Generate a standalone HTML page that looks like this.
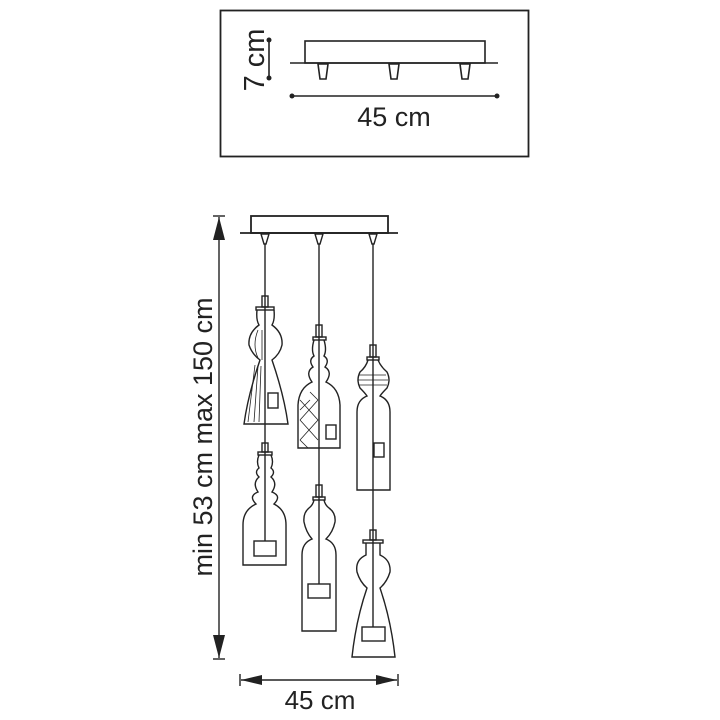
<!DOCTYPE html>
<html><head><meta charset="utf-8"><style>html,body{margin:0;padding:0;background:#fff}svg{display:block}</style></head>
<body>
<svg width="720" height="720" viewBox="0 0 720 720" xmlns="http://www.w3.org/2000/svg" font-family="Liberation Sans, sans-serif">
<rect width="720" height="720" fill="#fff"/>
<g fill="none" stroke="#222" stroke-width="1.6">
<rect x="220.5" y="10.5" width="308" height="146" stroke-width="1.8"/>
<rect x="305" y="41" width="180" height="22"/>
<line x1="290" y1="63" x2="498" y2="63"/>
<path d="M318 64 L328 64 L326 79 L320 79 Z M389 64 L399 64 L397 79 L391 79 Z M460 64 L470 64 L468 79 L462 79 Z"/>
<line x1="269" y1="40" x2="269" y2="78"/>
<line x1="292" y1="96" x2="497" y2="96"/>
</g>
<g fill="#222"><circle cx="269" cy="40" r="2.5"/><circle cx="269" cy="78" r="2.5"/><circle cx="292" cy="96" r="2.5"/><circle cx="497" cy="96" r="2.5"/></g>
<text x="394" y="126" font-size="27" text-anchor="middle" fill="#222">45 cm</text>
<text transform="translate(264,60) rotate(-90)" font-size="29" text-anchor="middle" fill="#222">7 cm</text>

<g fill="none" stroke="#222" stroke-width="1.4">
<rect x="251" y="216" width="137" height="17" stroke-width="1.8"/>
<line x1="240" y1="233" x2="398" y2="233" stroke-width="1.8"/>
<path d="M261 234 L269 234 L266 244 L264 244 Z M315 234 L323 234 L320 244 L318 244 Z M369 234 L377 234 L374 244 L372 244 Z"/>
<line x1="219" y1="217" x2="219" y2="658"/>
<line x1="213" y1="216" x2="225" y2="216"/><line x1="213" y1="659" x2="225" y2="659"/>
<line x1="240" y1="674" x2="240" y2="686"/><line x1="398" y1="674" x2="398" y2="686"/>
<line x1="241" y1="680" x2="397" y2="680"/>
<line x1="265" y1="244" x2="265" y2="541"/>
<line x1="319" y1="244" x2="319" y2="584"/>
<line x1="373" y1="244" x2="373" y2="627"/>
<rect x="262" y="296" width="6" height="11"/>
<rect x="256" y="307" width="18" height="3"/>
<path d="M257 310 Q256 320 259 325 Q248 333 249 345 Q252 354 260 360 Q248 395 244 424 L288 424 Q284 395 272 360 Q280 354 282 345 Q283 333 272 325 Q275 320 274 310"/>
<path d="M255 365 L248 422 M258 366 L254 422 M261 366 L259 422 M262 330 L262 360 M258 330 Q252 345 258 358" stroke-width="0.8"/>
<rect x="268" y="393" width="10" height="15"/>
<rect x="262" y="443" width="6" height="9"/>
<rect x="258" y="452" width="14" height="3"/>
<path d="M259 455 Q256 462 259 468 Q254 472 259 477 Q252 483 258 492 Q248 496 256 504 Q243 510 243 525 L243 565 L286 565 L286 525 Q286 510 274 504 Q282 496 272 492 Q278 483 271 477 Q276 472 271 468 Q274 462 271 455"/>
<rect x="254" y="541" width="22" height="15"/>
<rect x="316" y="325" width="6" height="12"/>
<rect x="313" y="337" width="13" height="3"/>
<path d="M314 340 Q311 350 314 356 Q308 360 313 367 Q305 372 312 382 Q299 388 298 405 L298 448 L340 448 L340 405 Q339 388 326 382 Q333 372 325 367 Q330 360 324 356 Q327 350 324 340"/>
<path d="M300 400 L318 420 L300 440 M300 420 L318 400 M300 440 L308 448 M318 440 L300 420 M310 392 L318 400 M300 410 L310 400" stroke-width="0.8"/>
<rect x="326" y="425" width="10" height="14"/>
<rect x="316" y="485" width="6" height="12"/>
<rect x="313" y="497" width="12" height="3"/>
<path d="M314 500 Q313 505 309 508 Q303 513 304 522 Q306 532 312 539 Q302 543 302 555 L302 631 L336 631 L336 555 Q336 543 326 539 Q333 532 335 522 Q336 513 329 508 Q325 505 324 500"/>
<rect x="308" y="584" width="22" height="14"/>
<rect x="370" y="345" width="6" height="12"/>
<rect x="367" y="357" width="12" height="3"/>
<path d="M368 360 Q366 367 360 372 Q356 380 360 388 Q365 393 367 396 Q357 400 357 412 L357 490 L390 490 L390 412 Q390 400 380 396 Q382 393 387 388 Q391 380 387 372 Q381 367 378 360"/>
<path d="M359 375 L386 375 M358 380 L388 380 M359 385 L387 385" stroke-width="0.7"/>
<rect x="374" y="443" width="10" height="14"/>
<rect x="370" y="530" width="6" height="10"/>
<rect x="363" y="540" width="20" height="3"/>
<path d="M366 543 L366 555 Q355 560 357 572 Q360 582 367 588 Q356 620 352 657 L395 657 Q391 620 380 588 Q387 582 390 572 Q391 560 380 555 L380 543"/>
<rect x="362" y="627" width="23" height="14"/>
</g>
<g fill="#222">
<path d="M219 217 L213 240 L225 240 Z"/>
<path d="M219 658 L213 635 L225 635 Z"/>
<path d="M241 680 L262 675 L262 685 Z"/>
<path d="M397 680 L376 675 L376 685 Z"/>
</g>
<text transform="translate(212,437) rotate(-90)" font-size="27" text-anchor="middle" fill="#222">min 53 cm max 150 cm</text>
<text x="320" y="709" font-size="26" text-anchor="middle" fill="#222">45 cm</text>
</svg>
</body></html>
